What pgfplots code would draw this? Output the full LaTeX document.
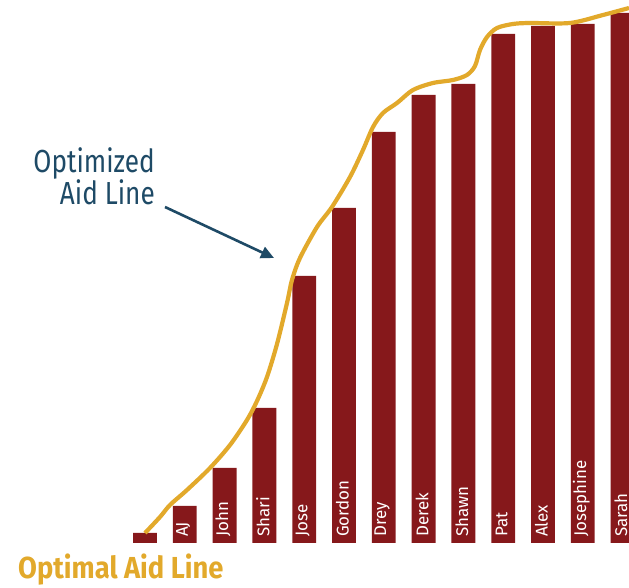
\documentclass[border=0pt]{standalone}
\usepackage{fontspec}
\setmainfont{Fira Sans}[FakeStretch=0.82]
\newfontfamily\labelfont{Fira Sans}
\newfontfamily\titlefont{Fira Sans}[FakeStretch=0.90]
\usepackage{pgfplots}
\pgfplotsset{compat=1.18}
\usepackage{pgfplotstable}
\usetikzlibrary{arrows.meta}

\definecolor{barred}{HTML}{86181B}
\definecolor{aidgold}{HTML}{E2A92B}
\definecolor{navy}{HTML}{1E4A66}

% aid awarded per student (bars)
\pgfplotstableread{
x  h    label
0  10   {}
1  37   AJ
2  75   John
3  135  Shari
4  267  Jose
5  335  Gordon
6  411  Drey
7  448  Derek
8  459  Shawn
9  509  Pat
10 517  Alex
11 519  Josephine
12 530  Sarah
}\aidtable

% optimized aid line
\pgfplotstableread{
x      y
0.00   10
0.377  26
0.628  38
1.055  53
1.633  75
2.136  98
2.563  123
2.814  142
3.065  166
3.317  199
3.568  240
3.693  263
3.894  285
4.322  316
4.698  336
5.151  366
5.477  393
5.729  416
5.980  430
6.332  440
6.734  453
7.236  460
7.739  463
8.090  468
8.291  477
8.417  493
8.593  506
8.844  515
9.246  519
9.673  520
10.678 520
11.508 528
12.161 535
}\curvetable

\begin{document}
\begin{tikzpicture}
\useasboundingbox (0,0) rectangle (629bp,588bp);
\begin{axis}[
  at={(0,0)}, anchor=south west,
  scale only axis, width=629bp, height=588bp,
  xmin=-3.643, xmax=12.161, ymin=-45, ymax=543,
  hide axis, clip=true,
]
\addplot[ybar, bar width=0.6, fill=barred, draw=none] table[x=x, y=h] {\aidtable};
\addplot[aidgold, line width=4.2bp, smooth, tension=0.5] table[x=x, y=y] {\curvetable};
\addplot[draw=none, mark=none, nodes near coords, point meta=explicit symbolic,
  nodes near coords style={rotate=90, anchor=west, inner sep=0pt, text=white,
    font=\labelfont\fontsize{17}{17}\selectfont}]
  table[x expr=\thisrow{x}-0.04, y expr=6, meta=label] {\aidtable};
\end{axis}

\node[anchor=base east, inner sep=0pt, text=navy, font=\fontsize{32}{32}\selectfont]
  at (155bp,415bp) {Optimized};
\node[anchor=base east, inner sep=0pt, text=navy, font=\fontsize{32}{32}\selectfont]
  at (155bp,383bp) {Aid Line};
\draw[navy, line width=2.6bp, -{Triangle[length=13bp,width=12bp]}]
  (165bp,381bp) -- (274bp,330bp);

\node[anchor=base west, inner sep=0pt, text=aidgold, font=\titlefont\bfseries\fontsize{30.5}{30.5}\selectfont]
  at (18bp,10bp) {Optimal Aid Line};
\end{tikzpicture}
\end{document}
